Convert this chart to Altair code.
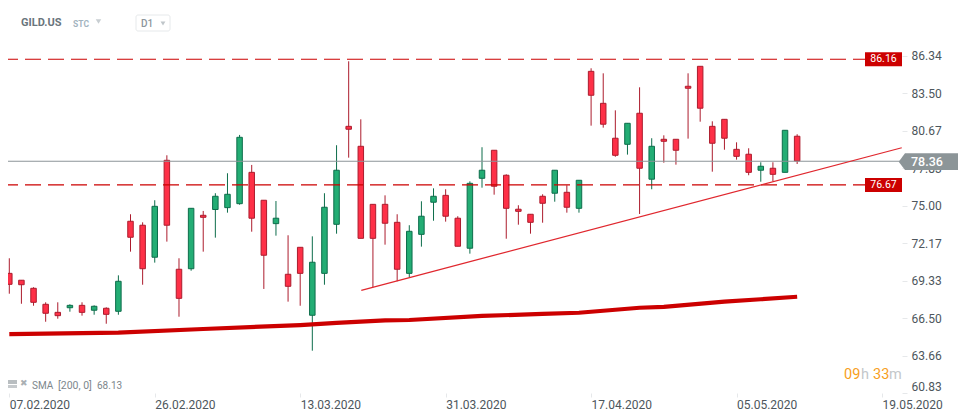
import altair as alt
import pandas as pd

opens = [69.88,69.36,68.75,67.54,66.93,67.28,67.46,67.09,67.24,67.01,73.82,73.52,71.10,78.43,70.19,70.23,74.27,74.71,74.85,75.15,
         77.52,75.41,73.64,69.81,71.85,66.71,69.88,73.59,81.00,79.49,75.10,75.10,73.74,69.88,72.83,75.26,75.78,74.05,71.78,77.07,
         79.19,77.30,74.73,74.35,75.71,75.94,76.01,74.80,85.16,82.74,80.10,79.64,81.99,77.00,80.02,80.02,84.03,85.54,81.00,81.53,
         79.26,78.89,77.68,77.83,77.52,80.25]
highs = [71.02,69.36,68.83,67.69,67.69,67.54,67.69,67.46,67.31,69.73,74.35,73.74,75.41,78.81,71.02,74.80,74.60,75.94,77.45,80.35,
         78.08,75.41,75.35,72.76,71.85,72.68,75.94,79.57,85.92,81.53,75.10,75.78,74.35,73.52,75.33,76.31,76.24,74.20,76.84,79.42,
         79.19,77.37,75.03,74.35,75.86,77.68,76.54,76.92,85.39,85.01,82.21,81.23,83.95,80.10,80.32,80.02,85.01,85.54,81.38,81.53,
         79.79,79.34,78.28,78.28,80.70,80.40]
lows = [68.34,67.58,67.43,66.22,66.45,66.98,66.68,66.75,66.07,66.75,71.52,69.02,70.69,72.28,66.60,70.08,71.52,72.58,74.47,75.07,
        73.03,68.70,72.73,67.74,67.43,64.03,69.02,72.88,78.63,72.53,68.83,72.05,69.28,69.58,71.90,73.86,73.79,71.93,71.37,76.36,
        75.83,72.50,73.56,72.88,73.71,75.30,74.47,74.47,81.05,80.90,78.70,78.86,74.37,76.24,78.25,78.10,80.07,81.35,77.57,79.23,
        78.48,77.30,76.81,76.84,77.52,78.15]
closes = [69.05,69.02,67.69,66.86,66.68,67.46,66.93,67.39,66.78,69.28,72.61,70.23,74.95,73.52,67.99,74.80,74.12,75.71,75.86,80.17,
          74.05,71.25,74.05,68.90,69.88,70.72,74.88,77.68,80.78,72.53,72.53,73.67,70.19,73.06,74.20,75.71,74.20,71.93,76.69,77.68,
          76.47,74.80,74.57,73.74,75.18,77.68,74.88,76.92,83.35,81.16,78.81,81.23,77.83,79.49,79.87,79.19,83.88,82.37,79.72,80.10,
          78.73,77.52,77.98,77.37,80.70,78.38]

sma_idx = [0,9,16,24,27,31,33,39,44,47,52,54,59,62,65]
sma_val = [65.29,65.39,65.67,65.97,66.13,66.33,66.35,66.66,66.81,66.90,67.28,67.34,67.74,67.92,68.11]

trend_idx = [29.04,73.63]
trend_val = [68.60,79.38]

level_pos = [86.08,76.57]
level_txt = ["86.16","76.67"]
last_price = 78.36

y_ticks = [86.34,83.50,80.67,77.83,75.00,72.17,69.33,66.50,63.66,60.83]
x_ticks = [0,12,24,36,48,60,72]
x_labels = ["07.02.2020","26.02.2020","13.03.2020","31.03.2020","17.04.2020","05.05.2020","19.05.2020"]

FONT = "Roboto"
RED_F, RED_S = "#fe3047", "#ac1c2d"
GRN_F, GRN_S = "#23ad74", "#0d6d4b"
LINE_RED = "#cc0000"
GRAY = "#8c9598"

df = pd.DataFrame({"i": range(len(opens)), "o": opens, "h": highs, "l": lows, "c": closes})
df["dir"] = ["up" if c > o else "down" for o, c in zip(opens, closes)]

sx = alt.Scale(domain=[-0.107, 73.65], nice=False, zero=False, padding=0)
sy = alt.Scale(domain=[60.83, 89.95], nice=False, zero=False, padding=0)

x_expr = "[" + ",".join(f"'{s}'" for s in x_labels) + "][datum.value/12]"
xaxis = alt.Axis(values=x_ticks, labelExpr=x_expr, title=None, grid=False, domain=False,
                 tickColor="#e6e8ea", tickSize=4, labelAlign="left", labelPadding=2, labelFont=FONT,
                 labelFontSize=12, labelColor="#4d565c", labelOverlap=False, labelBound=False, labelFlush=False)
yaxis = alt.Axis(values=y_ticks, format=".2f", orient="right", title=None, grid=False, domain=False,
                 tickColor="#e6e8ea", tickSize=5, labelAlign="left", labelPadding=4, labelFont=FONT,
                 labelFontSize=12, labelColor="#4d565c", labelOverlap=False, labelBound=False, labelFlush=True)

X = lambda f: alt.X(f, scale=sx, axis=xaxis)
Y = lambda f: alt.Y(f, scale=sy, axis=yaxis)

wicks = alt.Chart(df).mark_rule(strokeWidth=1).encode(
    x=X("i:Q"), y=Y("l:Q"), y2="h:Q",
    color=alt.Color("dir:N", scale=alt.Scale(domain=["up", "down"], range=[GRN_S, RED_S]), legend=None),
)
bodies = alt.Chart(df).mark_bar(size=5.5, strokeWidth=1).encode(
    x=X("i:Q"), y=Y("o:Q"), y2="c:Q",
    fill=alt.Fill("dir:N", scale=alt.Scale(domain=["up", "down"], range=[GRN_F, RED_F]), legend=None),
    stroke=alt.Stroke("dir:N", scale=alt.Scale(domain=["up", "down"], range=[GRN_S, RED_S]), legend=None),
)

levels = alt.Chart(pd.DataFrame({"y": level_pos, "t": level_txt})).mark_rule(
    color=LINE_RED, strokeWidth=1.05, strokeDash=[16, 7], strokeDashOffset=6
).encode(y=Y("y:Q"), x=alt.value(0), x2=alt.value(857))

last_line = alt.Chart(pd.DataFrame({"y": [last_price]})).mark_rule(color=GRAY, strokeWidth=1.1).encode(
    y=Y("y:Q"), x=alt.value(0), x2=alt.value(892))

trend = alt.Chart(pd.DataFrame({"i": trend_idx, "v": trend_val})).mark_line(color="#e0272e", strokeWidth=1.25).encode(
    x=X("i:Q"), y=Y("v:Q"))

sma = alt.Chart(pd.DataFrame({"i": sma_idx, "v": sma_val})).mark_line(color=LINE_RED, strokeWidth=4.2).encode(
    x=X("i:Q"), y=Y("v:Q"))

lvl_df = pd.DataFrame({"y": level_pos, "t": level_txt})
lvl_box = alt.Chart(lvl_df).mark_rect(color=LINE_RED, width=37, height=14).encode(
    x=alt.value(875.5), y=Y("y:Q"))
lvl_txt = alt.Chart(lvl_df).mark_text(color="white", font=FONT, fontSize=10.5, align="center", baseline="middle").encode(
    x=alt.value(875.5), y=Y("y:Q"), text="t:N")

one = alt.Data(values=[{"a": 1}])

def label(text, x, y, size=12, color="#4d565c", weight="normal", align="left", font=FONT):
    return alt.Chart(one).mark_text(text=text, fontSize=size, color=color, fontWeight=weight,
                                    align=align, baseline="middle", font=font).encode(x=alt.value(x), y=alt.value(y))

def tri(x, y, color, size=30, shape="triangle-down"):
    return alt.Chart(one).mark_point(shape=shape, filled=True, color=color, size=size, opacity=1).encode(
        x=alt.value(x), y=alt.value(y))

def box(x, x2, y, y2, fill, stroke=None, radius=0):
    kw = {"fill": fill}
    if stroke:
        kw.update(stroke=stroke, strokeWidth=1)
    if radius:
        kw.update(cornerRadius=radius)
    return alt.Chart(one).mark_rect(**kw).encode(
        x=alt.value(x), x2=alt.value(x2), y=alt.value(y), y2=alt.value(y2))

tag_body = box(897, 950, 145.3, 162, GRAY)
tag_tip = alt.Chart(pd.DataFrame({"x": [890.7, 897], "y": [153.65, 145.3], "y2": [153.65, 162]})).mark_area(
    color=GRAY, opacity=1).encode(x=alt.X("x:Q", scale=None, axis=None), y=alt.Y("y:Q", scale=None, axis=None), y2="y2:Q")
tag_text = label("78.36", 903, 153.6, size=12.5, color="white", weight=500)

extras = [
    label("GILD.US", 13, 15, size=11, color="#6a757c", weight="bold"),
    label("STC", 65, 16, size=8.5, color="#a3b4bf", weight="bold"),
    tri(90.5, 13.5, "#c8ced2", 30),
    box(128, 162, 7, 23, "white", "#e6e9eb", 2),
    label("D1", 133, 16, size=10, color="#8d969c", weight=500),
    tri(155, 15.5, "#c0c6ca", 24),
    box(0, 9, 372, 376, "#b9bec1"),
    box(0, 9, 377, 380, "#c6cacd"),
    label("\u2716", 12, 375, size=9, color="#aab0b4", font="DejaVu Sans"),
    label("SMA", 24, 378, size=10, color="#7d878d"),
    label("[200,  0]", 50, 378, size=10.5, color="#7d878d"),
    label("68.13", 89, 378, size=10, color="#7d878d"),
    label("09", 836, 367, size=14.5, color="#f7a01d"),
    label("h", 853, 367, size=14.5, color="#c3c7ca"),
    label("33", 865, 367, size=14.5, color="#f7a01d"),
    label("m", 881, 367, size=14.5, color="#c3c7ca"),
]

chart = alt.layer(wicks, bodies, levels, last_line, trend, sma, lvl_box, lvl_txt,
                  tag_body, tag_tip, tag_text, *extras).properties(
    width=894, height=385,
    autosize=alt.AutoSizeParams(type="none"),
    padding={"left": 0, "top": 0, "right": 60, "bottom": 18},
    background="white",
).configure_view(stroke=None, clip=False)

chart.save("out.html", embed_options={"renderer": "svg", "actions": False})
